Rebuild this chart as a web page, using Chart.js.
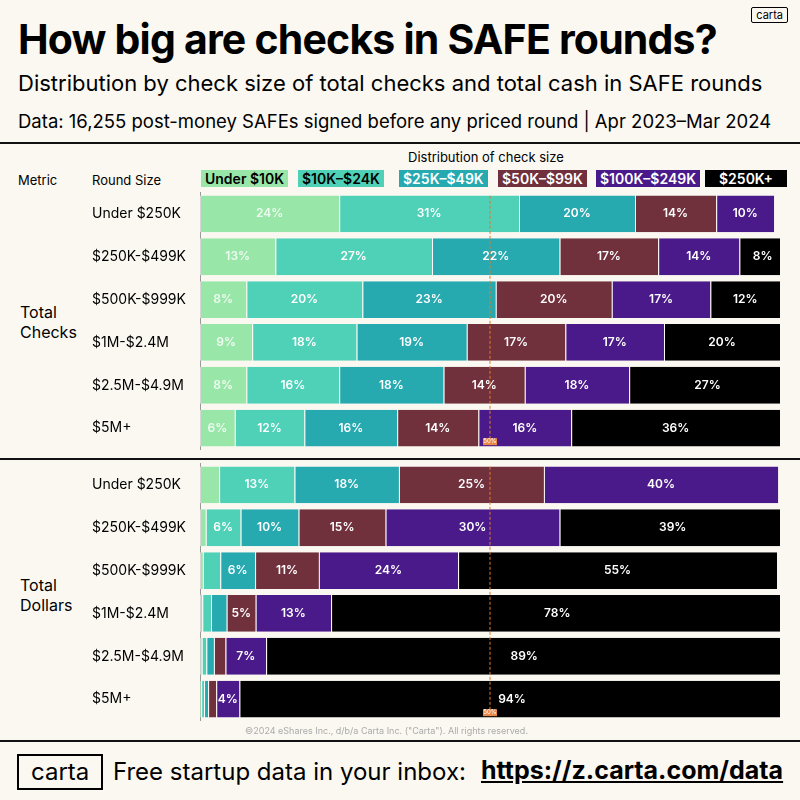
<!DOCTYPE html>
<html><head><meta charset="utf-8">
<script src="https://cdn.jsdelivr.net/npm/chart.js@4/dist/chart.umd.min.js"></script>
<style>
body{margin:0;width:800px;height:800px;background:#fbf8f2;font-family:Inter,"Noto Sans",sans-serif;position:relative;overflow:hidden;color:#000}
.a{position:absolute;white-space:nowrap}
.hr{position:absolute;left:0;width:800px;height:2px;background:#111}
.lg{position:absolute;top:170px;height:17px;font-size:14px;font-weight:600;line-height:17px;padding:0 4px}
canvas{position:absolute;left:92px}
</style></head><body>
<div class="a" style="left:18px;top:14px;font-size:41px;font-weight:700;letter-spacing:-0.8px">How big are checks in SAFE rounds?</div>
<div class="a" style="right:12px;top:7px;font-size:11px;border:1px solid #000;padding:0 4px;border-radius:2px">carta</div>
<div class="a" style="left:18px;top:70px;font-size:22px">Distribution by check size of total checks and total cash in SAFE rounds</div>
<div class="a" style="left:18px;top:110px;font-size:18.5px">Data: 16,255 post-money SAFEs signed before any priced round | Apr 2023–Mar 2024</div>
<div class="hr" style="top:142px"></div>
<div class="a" style="left:408px;top:149px;font-size:13px">Distribution of check size</div>
<div class="a" style="left:18px;top:172px;font-size:13px">Metric</div>
<div class="a" style="left:92px;top:172px;font-size:13px">Round Size</div>
<div class="lg" style="left:201px;background:#98e6a8">Under $10K</div>
<div class="lg" style="left:298px;background:#4fd1b8">$10K–$24K</div>
<div class="lg" style="left:399px;background:#27a9b0;color:#fff">$25K–$49K</div>
<div class="lg" style="left:498px;background:#70303c;color:#fff">$50K–$99K</div>
<div class="lg" style="left:596px;background:#4a1a8a;color:#fff">$100K–$249K</div>
<div class="lg" style="left:705px;background:#000;color:#fff;padding:0 14px">$250K+</div>
<div class="a" style="left:20px;top:302px;font-size:16px;line-height:20px">Total<br>Checks</div>
<div class="a" style="left:20px;top:575px;font-size:16px;line-height:20px">Total<br>Dollars</div>
<div class="hr" style="top:458px"></div>
<canvas id="c1" width="688" height="278" style="top:182px;width:688px;height:278px"></canvas>
<canvas id="c2" width="688" height="278" style="top:453px;width:688px;height:278px"></canvas>
<div class="a" style="left:245px;top:725px;font-size:9px;color:#aaa">©2024 eShares Inc., d/b/a Carta Inc. ("Carta"). All rights reserved.</div>
<div class="hr" style="top:740px"></div>
<div class="a" style="left:17px;top:754px;font-size:24px;border:2px solid #000;padding:0 12px;line-height:32px">carta</div>
<div class="a" style="left:113px;top:757px;font-size:24px">Free startup data in your inbox:</div>
<div class="a" style="left:481px;top:755px;font-size:25px;font-weight:700;text-decoration:underline">https://z.carta.com/data</div>
<script>
const rounds=["Under $250K","$250K-$499K","$500K-$999K","$1M-$2.4M","$2.5M-$4.9M","$5M+"];
const buckets=["Under $10K","$10K-$24K","$25K-$49K","$50K-$99K","$100K-$249K","$250K+"];
const colors=["#98e6a8","#4fd1b8","#27a9b0","#70303c","#4a1a8a","#000000"];
const checksUnder10K=[24,13,8,9,8,6];
const checks10K=[31,27,20,18,16,12];
const checks25K=[20,22,23,19,18,16];
const checks50K=[14,17,20,17,14,14];
const checks100K=[10,14,17,17,18,16];
const checks250K=[0,8,12,20,27,36];
const dollarsUnder10K=[3.3,1,0.5,0.4,0.3,0.2];
const dollars10K=[13,6,3,1.5,0.8,0.5];
const dollars25K=[18,10,6,2.7,1.3,0.7];
const dollars50K=[25,15,11,5,2,1.4];
const dollars100K=[40.4,30,24,13,7,4];
const dollars250K=[0,39,55,78,89,94];
const F='Inter, "Noto Sans", sans-serif';
const plug={id:'p',afterDatasetsDraw(c){const x=c.ctx,xs=c.scales.x;
 x.save();x.font='600 12px '+F;x.textAlign='center';x.textBaseline='middle';
 c.data.datasets.forEach((d,i)=>{c.getDatasetMeta(i).data.forEach((b,j)=>{const v=d.data[j];if(v>=4){x.fillStyle=i==0?'#eefbf0':'#fff';x.fillText(Math.round(v)+'%',(b.x+b.base)/2,b.y);}});});
 const top=c.getDatasetMeta(0).data[0].y-18,bot=c.getDatasetMeta(0).data[5].y+18;
 const px=xs.getPixelForValue(50);x.strokeStyle='#e07a2a';x.lineWidth=1;x.setLineDash([3,2]);
 x.beginPath();x.moveTo(px,top);x.lineTo(px,bot);x.stroke();
 x.setLineDash([]);x.fillStyle='#e8894a';x.fillRect(px-7,bot-8,14,7);x.fillStyle='#fff';x.font='6px '+F;x.fillText('50%',px,bot-4.5);
 x.restore();}};
function mk(id,arrs){new Chart(document.getElementById(id),{type:'bar',plugins:[plug],
 data:{labels:rounds,datasets:arrs.map((a,i)=>({label:buckets[i],data:a,backgroundColor:colors[i],borderColor:'rgba(255,255,255,0.6)',borderWidth:{left:1,right:0,top:0,bottom:0},borderSkipped:false,barPercentage:0.86,categoryPercentage:1}))},
 options:{indexAxis:'y',responsive:false,animation:false,devicePixelRatio:1,layout:{padding:0},
 plugins:{legend:{display:false},tooltip:{enabled:false}},
 scales:{x:{stacked:true,min:0,max:100,display:false},
 y:{stacked:true,grid:{display:false},border:{display:true,color:'#999'},afterFit(s){s.width=108;},
 ticks:{color:'#000',font:{size:14,family:F},crossAlign:'far',padding:2}}}}});}
mk('c1',[checksUnder10K,checks10K,checks25K,checks50K,checks100K,checks250K]);
mk('c2',[dollarsUnder10K,dollars10K,dollars25K,dollars50K,dollars100K,dollars250K]);
</script></body></html>
